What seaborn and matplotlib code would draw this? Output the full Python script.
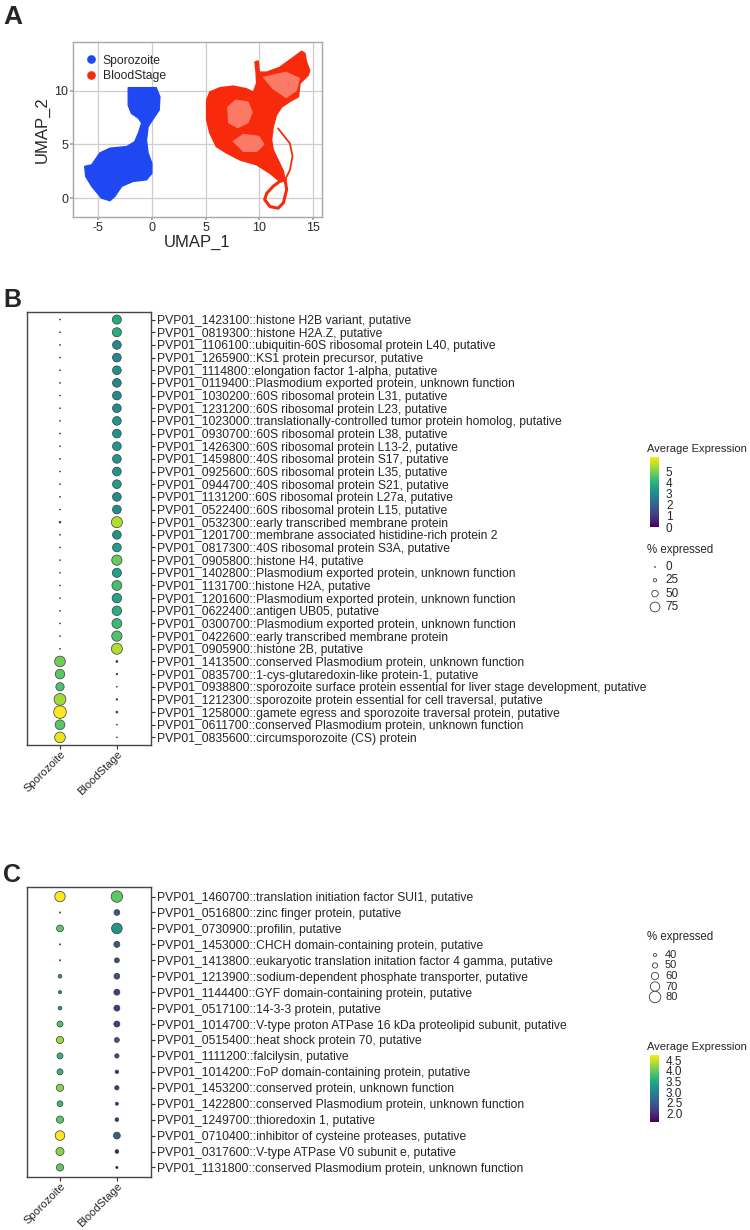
import numpy as np
import pandas as pd
import matplotlib
matplotlib.use("Agg")
import matplotlib.pyplot as plt
import matplotlib.cm as cm
from matplotlib.colors import Normalize
from matplotlib.lines import Line2D
import seaborn as sns

# ---------------- DATA ----------------
# Panel A: UMAP cluster outlines
umap_blue_x = [-2.2, 0.4, 0.75, 0.68, 0.2, -0.35, -0.5, -0.35, 0.0, 0.0, -0.5, -1.75, -2.8, -3.45,
               -3.9, -4.7, -5.6, -6.15, -6.25, -5.6, -4.85, -3.9, -2.35, -1.6, -1.25, -0.95, -1.25,
               -1.9, -2.2, -2.2]
umap_blue_y = [10.3, 10.3, 9.45, 8.2, 7.5, 6.65, 5.4, 4.2, 3.25, 2.3, 1.7, 1.55, 1.1, 0.15,
               -0.25, 0.0, 1.1, 2.0, 2.95, 3.1, 4.2, 4.65, 4.8, 5.25, 6.05, 7.0, 7.45,
               7.9, 8.65, 9.75]
umap_red_x = [5.1, 5.4, 6.35, 7.6, 8.8, 9.45, 9.75, 9.7, 9.6, 9.9, 10.0, 10.7, 11.9, 13.2, 13.95,
              14.25, 14.4, 14.7, 14.55, 13.8, 13.65, 12.85, 12.1, 11.6, 11.3, 11.15, 11.3, 11.75,
              12.25, 12.4, 11.9, 11.0, 9.75, 8.2, 6.95, 6.0, 5.4, 5.1]
umap_red_y = [9.15, 9.9, 10.3, 10.45, 10.2, 9.9, 10.7, 11.75, 12.7, 12.8, 11.75, 11.75, 12.2, 13.15,
              13.7, 13.5, 12.7, 11.9, 11.45, 10.7, 9.45, 9.0, 8.5, 7.75, 6.65, 5.4, 4.5, 3.55,
              2.5, 1.7, 1.55, 2.3, 3.1, 3.55, 4.2, 4.8, 6.05, 7.3]
umap_sparse1_x = [7.0, 7.8, 9.0, 9.4, 9.0, 8.0, 7.1]
umap_sparse1_y = [8.5, 9.2, 9.0, 8.0, 7.0, 6.5, 7.0]
umap_sparse2_x = [7.5, 8.5, 10.0, 10.5, 9.8, 8.5]
umap_sparse2_y = [5.3, 6.0, 5.8, 5.0, 4.3, 4.3]
umap_sparse3_x = [10.3, 12.5, 13.8, 13.5, 12.5, 11.2]
umap_sparse3_y = [11.3, 11.8, 11.2, 10.0, 9.3, 10.2]
umap_arc_x = [11.75, 12.85, 13.1, 12.85, 12.4]
umap_arc_y = [6.5, 5.1, 3.9, 2.6, 1.7]
umap_loop_x = [12.4, 12.55, 12.25, 11.75, 11.0, 10.5, 10.7, 11.3, 11.9, 12.4]
umap_loop_y = [1.7, 0.8, -0.45, -0.95, -0.8, -0.15, 0.45, 1.1, 1.55, 1.7]
umap_groups = ["Sporozoite", "BloodStage"]

stages = ["Sporozoite", "BloodStage"]

# Panel B
genes_B = [
    "PVP01_1423100::histone H2B variant, putative",
    "PVP01_0819300::histone H2A.Z, putative",
    "PVP01_1106100::ubiquitin-60S ribosomal protein L40, putative",
    "PVP01_1265900::KS1 protein precursor, putative",
    "PVP01_1114800::elongation factor 1-alpha, putative",
    "PVP01_0119400::Plasmodium exported protein, unknown function",
    "PVP01_1030200::60S ribosomal protein L31, putative",
    "PVP01_1231200::60S ribosomal protein L23, putative",
    "PVP01_1023000::translationally-controlled tumor protein homolog, putative",
    "PVP01_0930700::60S ribosomal protein L38, putative",
    "PVP01_1426300::60S ribosomal protein L13-2, putative",
    "PVP01_1459800::40S ribosomal protein S17, putative",
    "PVP01_0925600::60S ribosomal protein L35, putative",
    "PVP01_0944700::40S ribosomal protein S21, putative",
    "PVP01_1131200::60S ribosomal protein L27a, putative",
    "PVP01_0522400::60S ribosomal protein L15, putative",
    "PVP01_0532300::early transcribed membrane protein",
    "PVP01_1201700::membrane associated histidine-rich protein 2",
    "PVP01_0817300::40S ribosomal protein S3A, putative",
    "PVP01_0905800::histone H4, putative",
    "PVP01_1402800::Plasmodium exported protein, unknown function",
    "PVP01_1131700::histone H2A, putative",
    "PVP01_1201600::Plasmodium exported protein, unknown function",
    "PVP01_0622400::antigen UB05, putative",
    "PVP01_0300700::Plasmodium exported protein, unknown function",
    "PVP01_0422600::early transcribed membrane protein",
    "PVP01_0905900::histone 2B, putative",
    "PVP01_1413500::conserved Plasmodium protein, unknown function",
    "PVP01_0835700::1-cys-glutaredoxin-like protein-1, putative",
    "PVP01_0938800::sporozoite surface protein essential for liver stage development, putative",
    "PVP01_1212300::sporozoite protein essential for cell traversal, putative",
    "PVP01_1258000::gamete egress and sporozoite traversal protein, putative",
    "PVP01_0611700::conserved Plasmodium protein, unknown function",
    "PVP01_0835600::circumsporozoite (CS) protein",
]
B_spz_expr = [0.4, 0.1, 0.1, 0.1, 0.1, 0.2, 0.1, 0.1, 0.1, 0.1, 0.1, 0.1, 0.1, 0.1, 0.1, 0.1, 0.6,
              0.1, 0.1, 0.2, 0.1, 0.2, 0.1, 0.1, 0.1, 0.1, 0.1,
              4.9, 4.7, 4.5, 5.4, 6.3, 4.65, 6.1]
B_bs_expr = [3.78, 3.97, 2.96, 2.90, 3.15, 2.90, 3.02, 3.02, 3.28, 3.15, 3.34, 3.28, 3.28, 3.47,
             3.09, 3.09, 5.54, 3.15, 3.47, 4.79, 3.59, 4.41, 3.65, 3.97, 4.28, 4.54, 5.54,
             0.5, 0.3, 0.1, 0.4, 0.5, 0.1, 0.1]
B_spz_pct = [4, 2, 2, 2, 2, 2, 2, 2, 2, 2, 2, 2, 2, 2, 2, 2, 14, 2, 2, 2, 2, 2, 2, 2, 2, 2, 2,
             82, 73, 64, 91, 97, 75, 82]
B_bs_pct = [70, 70, 67, 67, 67, 67, 67, 67, 67, 67, 67, 67, 67, 67, 67, 67, 85, 67, 67, 79, 70,
            76, 73, 73, 76, 79, 85, 15, 12, 4, 12, 15, 3, 3]
B_cbar_ticks = [0, 1, 2, 3, 4, 5]
B_size_legend = [0, 25, 50, 75]

# Panel C
genes_C = [
    "PVP01_1460700::translation initiation factor SUI1, putative",
    "PVP01_0516800::zinc finger protein, putative",
    "PVP01_0730900::profilin, putative",
    "PVP01_1453000::CHCH domain-containing protein, putative",
    "PVP01_1413800::eukaryotic translation initation factor 4 gamma, putative",
    "PVP01_1213900::sodium-dependent phosphate transporter, putative",
    "PVP01_1144400::GYF domain-containing protein, putative",
    "PVP01_0517100::14-3-3 protein, putative",
    "PVP01_1014700::V-type proton ATPase 16 kDa proteolipid subunit, putative",
    "PVP01_0515400::heat shock protein 70, putative",
    "PVP01_1111200::falcilysin, putative",
    "PVP01_1014200::FoP domain-containing protein, putative",
    "PVP01_1453200::conserved protein, unknown function",
    "PVP01_1422800::conserved Plasmodium protein, unknown function",
    "PVP01_1249700::thioredoxin 1, putative",
    "PVP01_0710400::inhibitor of cysteine proteases, putative",
    "PVP01_0317600::V-type ATPase V0 subunit e, putative",
    "PVP01_1131800::conserved Plasmodium protein, unknown function",
]
C_spz_expr = [4.75, 2.55, 3.96, 2.7, 2.55, 3.33, 3.2, 3.33, 3.87, 4.28, 3.68, 3.68, 4.18, 3.74,
              3.96, 4.75, 4.18, 3.96]
C_bs_expr = [3.96, 2.45, 3.24, 2.45, 2.3, 2.4, 2.14, 2.14, 2.17, 2.4, 2.23, 1.98, 2.07, 1.98,
             2.07, 2.55, 1.9, 1.62]
C_spz_pct = [75, 31, 58, 31, 31, 43, 40, 43, 54, 60, 54, 54, 60, 53, 60, 71, 64, 60]
C_bs_pct = [80, 53, 76, 54, 49, 53, 54, 54, 54, 49, 46, 42, 46, 40, 43, 58, 43, 36]
C_cbar_ticks = [2.0, 2.5, 3.0, 3.5, 4.0, 4.5]
C_size_legend = [40, 50, 60, 70, 80]

# ---------------- STYLE ----------------
sns.set_theme(style="white")
plt.rcParams["font.family"] = ["Liberation Sans", "DejaVu Sans"]
plt.rcParams["axes.unicode_minus"] = False

W, H = 750, 1230
fig = plt.figure(figsize=(W / 100, H / 100), dpi=100)


def fax(left, top, width, height, **kw):
    return fig.add_axes([left / W, 1 - (top + height) / H, width / W, height / H], **kw)


def px2s(d):
    d = np.maximum(np.asarray(d, dtype=float), 0.9)
    return (d * 0.72) ** 2


def size_B(p):
    return px2s(0.13 * np.asarray(p, dtype=float))


def size_C(p):
    return px2s(1.15 * (0.182 * np.asarray(p, dtype=float) - 4.6))


BLUE = "#1f48f2"
RED = "#f82a0c"

# ---------------- PANEL A ----------------
axA = fax(73, 42, 249, 175)
axA.set_axisbelow(True)
axA.grid(True, color="#cdcdcd", lw=0.9)
axA.fill(umap_blue_x, umap_blue_y, color=BLUE, ec=BLUE, lw=1.0, zorder=2)
axA.fill(umap_red_x, umap_red_y, color=RED, ec=RED, lw=1.0, zorder=2)
for sx, sy in [(umap_sparse1_x, umap_sparse1_y), (umap_sparse2_x, umap_sparse2_y),
               (umap_sparse3_x, umap_sparse3_y)]:
    axA.fill(sx, sy, color="#fb7a66", lw=0, zorder=3)
axA.plot(umap_arc_x, umap_arc_y, color=RED, lw=1.3, zorder=3)
axA.plot(umap_loop_x, umap_loop_y, color=RED, lw=2.2, zorder=3)
axA.set_xlim(-7.34, 15.84)
axA.set_ylim(-1.77, 14.56)
axA.set_xticks([-5, 0, 5, 10, 15])
axA.set_yticks([0, 5, 10])
for sp in axA.spines.values():
    sp.set_color("#a8a8a8")
    sp.set_linewidth(1.0)
axA.tick_params(length=2, color="#a8a8a8", labelsize=9, labelcolor="#2a2a2a", pad=1.5,
                bottom=True, left=True)
axA.set_xlabel("UMAP_1", fontsize=12, labelpad=1)
axA.set_ylabel("UMAP_2", fontsize=12, labelpad=3)
handles = [Line2D([], [], ls="", marker="o", ms=5.2, color=c) for c in (BLUE, RED)]
axA.legend(handles, umap_groups, loc="upper left", frameon=False, fontsize=8.7,
           handletextpad=0.35, labelspacing=0.3, borderaxespad=0.5, handlelength=1.2,
           bbox_to_anchor=(0.0, 0.99))

# ---------------- DOT PLOTS ----------------
def dotplot(ax, genes, spz_e, bs_e, spz_p, bs_p, norm, size_fn):
    n = len(genes)
    df = pd.DataFrame({
        "gene": list(genes) * 2,
        "stage": [stages[0]] * n + [stages[1]] * n,
        "expr": list(spz_e) + list(bs_e),
        "pct": list(spz_p) + list(bs_p),
    })
    sns.scatterplot(data=df, x="stage", y="gene", hue="expr", palette="viridis",
                    hue_norm=norm, s=size_fn(df["pct"].to_numpy()), edgecolor="#3c3c3c",
                    linewidth=0.5, legend=False, ax=ax, zorder=3)
    ax.set_xlim(-0.58, 1.6)
    ax.set_ylim(n - 0.4, -0.6)
    ax.set_xlabel("")
    ax.set_ylabel("")
    ax.yaxis.tick_right()
    ax.tick_params(axis="y", labelsize=8.7, length=3, width=0.8, pad=1, color="#333333",
                   right=True, left=False)
    ax.tick_params(axis="x", labelsize=8, length=3, width=0.8, pad=0, color="#333333",
                   bottom=True)
    for lab in ax.get_xticklabels():
        lab.set_rotation(45)
        lab.set_ha("right")
        lab.set_rotation_mode("anchor")
    for sp in ax.spines.values():
        sp.set_color("#444444")
        sp.set_linewidth(1.0)
    ax.grid(False)


normB = Normalize(0, 6.3)
normC = Normalize(1.6, 4.75)

axB = fax(27, 312, 124, 433)
dotplot(axB, genes_B, B_spz_expr, B_bs_expr, B_spz_pct, B_bs_pct, normB, size_B)
axC = fax(27, 887, 124, 290)
dotplot(axC, genes_C, C_spz_expr, C_bs_expr, C_spz_pct, C_bs_pct, normC, size_C)

# ---------------- LEGENDS ----------------
def ftext(x, y, s, **kw):
    fig.text(x / W, 1 - y / H, s, va="center", ha="left", **kw)


def colorbar(top, height, norm, ticks, fmt):
    cax = fax(650, top, 9, height)
    cb = fig.colorbar(cm.ScalarMappable(norm=norm, cmap="viridis"), cax=cax)
    cb.outline.set_visible(False)
    cb.set_ticks(ticks)
    cb.set_ticklabels([fmt.format(t) for t in ticks])
    cax.tick_params(labelsize=8.5, length=2, color="white", direction="in", pad=5)


ov = fax(0, 0, W, H, zorder=10)
ov.set_xlim(0, W)
ov.set_ylim(H, 0)
ov.axis("off")
ov.patch.set_alpha(0)

# B legends
ftext(647, 449, "Average Expression", fontsize=8)
colorbar(457, 70, normB, B_cbar_ticks, "{:d}")
ftext(647, 550, "% expressed", fontsize=8.3)
yB = [567, 580.3, 593.6, 607]
ov.scatter([655] * len(B_size_legend), yB, s=size_B(B_size_legend), facecolor="white",
           edgecolor="#3c3c3c", linewidth=0.6)
for v, y in zip(B_size_legend, yB):
    ftext(665, y, str(v), fontsize=8.5)

# C legends
ftext(647, 937, "% expressed", fontsize=8.3)
yC = [955, 965.5, 976, 986.5, 997]
ov.scatter([655] * len(C_size_legend), yC, s=size_C(C_size_legend), facecolor="white",
           edgecolor="#3c3c3c", linewidth=0.6)
for v, y in zip(C_size_legend, yC):
    ftext(665, y, str(v), fontsize=8)
ftext(647, 1047, "Average Expression", fontsize=8)
colorbar(1055, 67, normC, C_cbar_ticks, "{:.1f}")

# Panel letters
ftext(3, 17, "A", fontsize=19, fontweight="bold")
ftext(3, 300, "B", fontsize=18, fontweight="bold")
ftext(3, 875, "C", fontsize=18, fontweight="bold")

fig.savefig("out.png", dpi=100, facecolor="white")
